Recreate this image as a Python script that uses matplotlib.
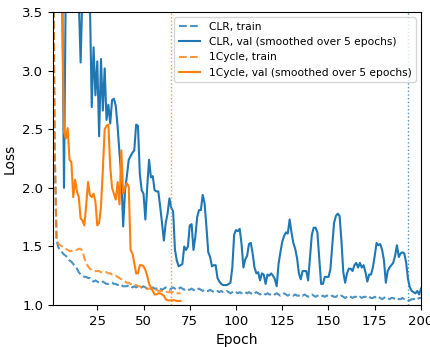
import matplotlib
matplotlib.use("Agg")
import matplotlib.pyplot as plt
import numpy as np

# per-epoch losses, CLR run (200 epochs)
clr_train = [
    4.50, 2.30, 1.55, 1.49, 1.47, 1.45, 1.43, 1.42, 1.40, 1.38,
    1.37, 1.35, 1.33, 1.31, 1.28, 1.26, 1.25, 1.24, 1.24, 1.23,
    1.23, 1.21, 1.20, 1.21, 1.20, 1.19, 1.19, 1.20, 1.19, 1.18,
    1.18, 1.19, 1.19, 1.18, 1.18, 1.17, 1.18, 1.17, 1.16, 1.16,
    1.16, 1.17, 1.16, 1.15, 1.16, 1.15, 1.16, 1.15, 1.15, 1.16,
    1.15, 1.14, 1.15, 1.14, 1.15, 1.14, 1.14, 1.15, 1.14, 1.13,
    1.14, 1.15, 1.14, 1.13, 1.14, 1.15, 1.14, 1.13, 1.14, 1.15,
    1.14, 1.13, 1.14, 1.13, 1.13, 1.14, 1.13, 1.12, 1.13, 1.14,
    1.13, 1.12, 1.13, 1.12, 1.12, 1.13, 1.12, 1.11, 1.12, 1.12,
    1.11, 1.12, 1.11, 1.11, 1.12, 1.11, 1.10, 1.11, 1.12, 1.11,
    1.10, 1.11, 1.10, 1.10, 1.11, 1.10, 1.11, 1.10, 1.09, 1.10,
    1.11, 1.10, 1.09, 1.10, 1.10, 1.09, 1.10, 1.09, 1.09, 1.10,
    1.09, 1.10, 1.09, 1.08, 1.09, 1.10, 1.09, 1.08, 1.09, 1.09,
    1.08, 1.09, 1.08, 1.08, 1.09, 1.08, 1.09, 1.08, 1.07, 1.08,
    1.09, 1.08, 1.07, 1.08, 1.08, 1.07, 1.08, 1.07, 1.08, 1.08,
    1.07, 1.08, 1.07, 1.07, 1.08, 1.07, 1.08, 1.07, 1.06, 1.07,
    1.08, 1.07, 1.06, 1.07, 1.07, 1.06, 1.07, 1.06, 1.07, 1.07,
    1.06, 1.07, 1.06, 1.06, 1.07, 1.06, 1.07, 1.06, 1.05, 1.06,
    1.07, 1.06, 1.05, 1.06, 1.06, 1.05, 1.06, 1.05, 1.05, 1.06,
    1.05, 1.05, 1.04, 1.04, 1.05, 1.05, 1.06, 1.05, 1.06, 1.06,
]
clr_val = [
    5.50, 5.00, 4.60, 4.30, 4.00, 3.80, 2.00, 3.80, 4.00, 3.90,
    3.90, 3.80, 3.90, 3.70, 3.60, 3.07, 3.70, 3.80, 3.70, 3.60,
    3.60, 2.69, 3.20, 2.79, 3.08, 2.44, 3.10, 2.66, 3.02, 2.58,
    2.71, 2.55, 2.75, 2.76, 2.70, 2.52, 2.30, 2.10, 1.67, 1.98,
    2.10, 2.24, 2.27, 2.30, 2.32, 2.54, 2.53, 2.12, 1.98, 1.95,
    1.73, 2.01, 2.24, 2.09, 2.10, 1.98, 1.97, 1.97, 1.84, 1.70,
    1.55, 1.70, 1.78, 1.91, 1.83, 1.80, 1.47, 1.38, 1.33, 1.34,
    1.35, 1.50, 1.47, 1.50, 1.68, 1.69, 1.47, 1.58, 1.75, 1.81,
    1.81, 1.94, 1.87, 1.67, 1.45, 1.41, 1.33, 1.34, 1.34, 1.23,
    1.20, 1.18, 1.17, 1.17, 1.17, 1.18, 1.19, 1.32, 1.60, 1.64,
    1.63, 1.65, 1.52, 1.32, 1.39, 1.42, 1.52, 1.53, 1.44, 1.32,
    1.27, 1.28, 1.21, 1.27, 1.26, 1.18, 1.26, 1.25, 1.27, 1.25,
    1.22, 1.16, 1.35, 1.45, 1.54, 1.59, 1.62, 1.61, 1.73, 1.62,
    1.53, 1.48, 1.40, 1.27, 1.22, 1.29, 1.29, 1.29, 1.21, 1.40,
    1.60, 1.66, 1.66, 1.62, 1.40, 1.18, 1.18, 1.24, 1.24, 1.24,
    1.30, 1.50, 1.70, 1.76, 1.78, 1.76, 1.55, 1.28, 1.19, 1.27,
    1.31, 1.31, 1.29, 1.34, 1.36, 1.32, 1.36, 1.32, 1.34, 1.28,
    1.20, 1.26, 1.26, 1.32, 1.42, 1.53, 1.51, 1.52, 1.47, 1.38,
    1.19, 1.29, 1.32, 1.34, 1.36, 1.42, 1.51, 1.41, 1.44, 1.45,
    1.44, 1.36, 1.22, 1.15, 1.12, 1.11, 1.10, 1.12, 1.09, 1.14,
]

# per-epoch losses, 1Cycle run (70 epochs)
onecycle_train = [
    4.50, 2.30, 1.56, 1.52, 1.51, 1.50, 1.49, 1.48, 1.47, 1.46,
    1.46, 1.47, 1.47, 1.47, 1.48, 1.48, 1.46, 1.40, 1.36, 1.33,
    1.31, 1.30, 1.29, 1.29, 1.29, 1.29, 1.28, 1.28, 1.28, 1.28,
    1.27, 1.27, 1.26, 1.25, 1.25, 1.24, 1.23, 1.22, 1.21, 1.20,
    1.19, 1.19, 1.18, 1.18, 1.17, 1.17, 1.16, 1.16, 1.15, 1.15,
    1.15, 1.14, 1.14, 1.14, 1.14, 1.13, 1.13, 1.12, 1.12, 1.12,
    1.11, 1.11, 1.11, 1.11, 1.11, 1.11, 1.10, 1.10, 1.10, 1.10,
]
onecycle_val = [
    6.00, 5.50, 5.00, 4.50, 4.00, 3.60, 2.48, 2.42, 2.51, 2.24,
    2.22, 1.92, 2.07, 1.97, 1.92, 1.74, 1.72, 1.68, 1.85, 2.05,
    1.94, 1.92, 1.95, 1.88, 1.68, 1.70, 1.84, 2.15, 2.50, 2.53,
    2.54, 2.18, 2.00, 1.95, 1.90, 2.05, 1.86, 2.32, 1.95, 2.00,
    2.04, 2.01, 1.47, 1.44, 1.36, 1.27, 1.27, 1.34, 1.34, 1.33,
    1.30, 1.25, 1.18, 1.15, 1.12, 1.09, 1.09, 1.10, 1.10, 1.09,
    1.08, 1.05, 1.04, 1.04, 1.04, 1.04, 1.04, 1.035, 1.035, 1.035,
]

# epochs picked for each run
clr_best = 193
onecycle_best = 65

clr_epochs = np.arange(1, len(clr_val) + 1)
oc_epochs = np.arange(1, len(onecycle_val) + 1)

fig, ax = plt.subplots(figsize=(4.3, 3.47), dpi=100)
ax.plot(clr_epochs, clr_train, '--', color='tab:blue', alpha=0.8, label='CLR, train')
ax.plot(clr_epochs, clr_val, '-', color='tab:blue', label='CLR, val (smoothed over 5 epochs)')
ax.plot(oc_epochs, onecycle_train, '--', color='tab:orange', alpha=0.8, label='1Cycle, train')
ax.plot(oc_epochs, onecycle_val, '-', color='tab:orange', label='1Cycle, val (smoothed over 5 epochs)')
ax.axvline(clr_best, color='tab:blue', linestyle=':', linewidth=1, alpha=0.8)
ax.axvline(onecycle_best, color='tab:orange', linestyle=':', linewidth=1, alpha=0.8)

ax.set_xlim(1, 200)
ax.set_ylim(1.0, 3.5)
ax.set_xticks([25, 50, 75, 100, 125, 150, 175, 200])
ax.tick_params(labelsize=9.5)
ax.set_xlabel('Epoch', fontsize=10)
ax.set_ylabel('Loss', fontsize=10)
ax.legend(loc='upper right', fontsize=7.7)
fig.subplots_adjust(left=0.123, right=0.979, top=0.965, bottom=0.121)
fig.savefig('out.png')
